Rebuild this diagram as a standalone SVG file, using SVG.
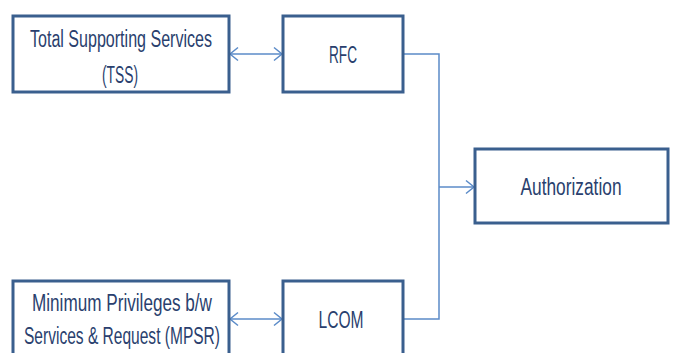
<svg xmlns="http://www.w3.org/2000/svg" width="678" height="353" viewBox="0 0 678 353">
  <style>
    .box { fill: #ffffff; stroke: #3A5F8E; stroke-width: 3; }
    .lbl { font-family: "Liberation Sans", Arial, sans-serif; font-size: 23px; fill: #2A3F6E; text-anchor: middle; }
    .conn { fill: none; stroke: #5B8BC8; stroke-width: 1.5; }
  </style>
  <defs>
    <marker id="chev" markerUnits="userSpaceOnUse" markerWidth="12" markerHeight="16" viewBox="0 0 12 16" refX="9" refY="8" orient="auto-start-reverse">
      <path d="M1,1.5 L9,8 L1,14.5" fill="none" stroke="#5B8BC8" stroke-width="1.5"/>
    </marker>
  </defs>
  <rect width="678" height="353" fill="#ffffff"/>
  <g id="connectors">
    <line class="conn" x1="230" y1="54" x2="282" y2="54" marker-start="url(#chev)" marker-end="url(#chev)"/>
    <line class="conn" x1="230" y1="319" x2="282" y2="319" marker-start="url(#chev)" marker-end="url(#chev)"/>
    <polyline class="conn" points="404,54 439,54 439,319 404,319"/>
    <line class="conn" x1="439" y1="187" x2="474" y2="187" marker-end="url(#chev)"/>
  </g>
  <g id="tss">
    <rect class="box" x="13" y="16" width="216" height="76"/>
    <text class="lbl" x="121" y="46.5" textLength="182" lengthAdjust="spacingAndGlyphs">Total Supporting Services</text>
    <text class="lbl" x="120" y="83" textLength="36" lengthAdjust="spacingAndGlyphs">(TSS)</text>
  </g>
  <g id="rfc">
    <rect class="box" x="283" y="16" width="120" height="76"/>
    <text class="lbl" x="343" y="63" textLength="28" lengthAdjust="spacingAndGlyphs">RFC</text>
  </g>
  <g id="authorization">
    <rect class="box" x="475" y="149" width="193" height="74"/>
    <text class="lbl" x="571" y="195" textLength="101" lengthAdjust="spacingAndGlyphs">Authorization</text>
  </g>
  <g id="mpsr">
    <rect class="box" x="13" y="281" width="216" height="90"/>
    <text class="lbl" x="122" y="311" textLength="180" lengthAdjust="spacingAndGlyphs">Minimum Privileges b/w</text>
    <text class="lbl" x="122" y="344" textLength="196" lengthAdjust="spacingAndGlyphs">Services &amp; Request (MPSR)</text>
  </g>
  <g id="lcom">
    <rect class="box" x="283" y="281" width="120" height="90"/>
    <text class="lbl" x="341" y="328" textLength="45" lengthAdjust="spacingAndGlyphs">LCOM</text>
  </g>
</svg>
